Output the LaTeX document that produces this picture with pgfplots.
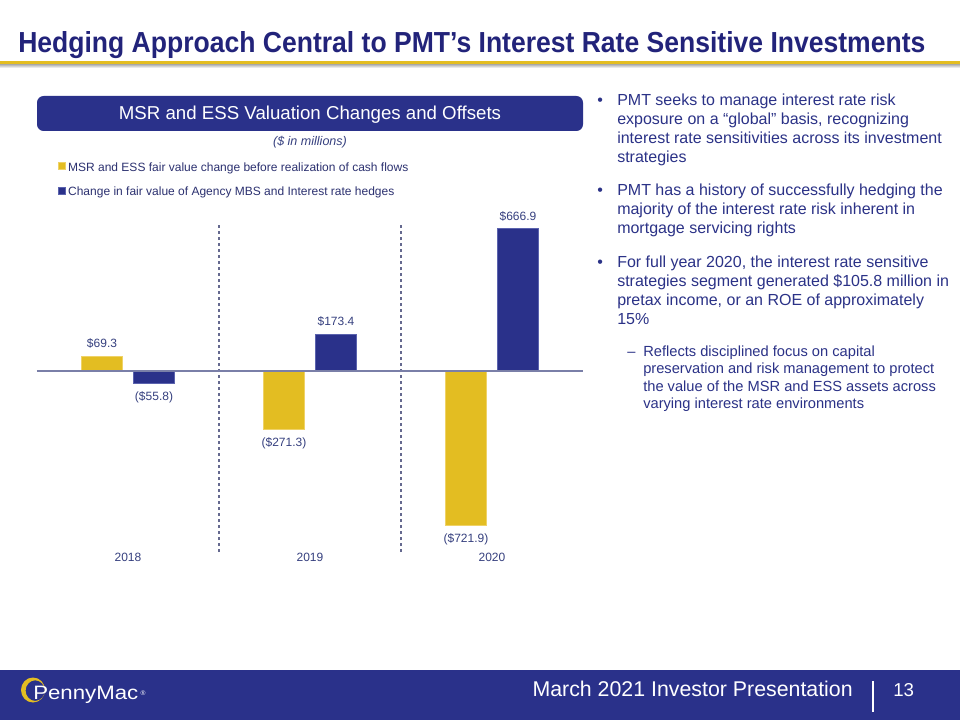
\documentclass[border=0pt]{standalone}
\usepackage{pgfplots}
\pgfplotsset{compat=1.18}
\usepackage{fontspec}
\setmainfont{Liberation Sans}
\usepackage{graphicx}
\definecolor{navy}{HTML}{2A318A}
\definecolor{titlecol}{HTML}{22237A}
\definecolor{gold}{HTML}{E3BD22}
\definecolor{goldedge}{HTML}{EFD267}
\definecolor{navyedge}{HTML}{5B63AE}
\definecolor{txtnavy}{HTML}{2B3287}
\definecolor{lblcol}{HTML}{36407F}
\definecolor{legcol}{HTML}{2C3170}
\definecolor{gridcol}{HTML}{65698F}
\definecolor{zerocol}{HTML}{7A7FA8}
\begin{document}
\begin{tikzpicture}
\begin{scope}[x=0.75pt,y=-0.75pt]
\fill[white] (0,0) rectangle (960,720);
% title
\node[anchor=base west, inner sep=0pt, text=titlecol] at (18,53)
  {\resizebox{680.25pt}{15.75pt}{\bfseries Hedging Approach Central to PMT’s Interest Rate Sensitive Investments}};
\fill[gold] (0,61.5) rectangle (960,64.5);
\shade[top color=black!30, bottom color=white] (0,64.5) rectangle (960,68);
% header box
\fill[navy, rounded corners=5pt] (37,96) rectangle (583,131);
\node[anchor=base, inner sep=0pt, text=white, font=\fontsize{14}{16}\selectfont] at (310,120) {MSR and ESS Valuation Changes and Offsets};
\node[anchor=base, inner sep=0pt, text=lblcol, font=\fontsize{9.4}{11}\selectfont\itshape] at (310,145.5) {(\$ in millions)};
\coordinate (axSW) at (37,552);
% right text
\begin{scope}[every node/.style={anchor=base west, inner sep=0pt, text=txtnavy, font=\fontsize{12}{14}\selectfont}]
\node at (597,105.7) {•};
\node at (617,105.7) {PMT seeks to manage interest rate risk};
\node at (617,124.8) {exposure on a “global” basis, recognizing};
\node at (617,143.9) {interest rate sensitivities across its investment};
\node at (617,163.0) {strategies};
\node at (597,195.7) {•};
\node at (617,195.7) {PMT has a history of successfully hedging the};
\node at (617,214.8) {majority of the interest rate risk inherent in};
\node at (617,233.9) {mortgage servicing rights};
\node at (597,267.4) {•};
\node at (617,267.4) {For full year 2020, the interest rate sensitive};
\node at (617,286.5) {strategies segment generated \$105.8 million in};
\node at (617,305.6) {pretax income, or an ROE of approximately};
\node at (617,324.7) {15\%};
\end{scope}
\begin{scope}[every node/.style={anchor=base west, inner sep=0pt, text=txtnavy, font=\fontsize{11}{13}\selectfont}]
\node at (627,356) {–};
\node at (643,356) {Reflects disciplined focus on capital};
\node at (643,373.5) {preservation and risk management to protect};
\node at (643,391) {the value of the MSR and ESS assets across};
\node at (643,408.5) {varying interest rate environments};
\end{scope}
% footer
\fill[navy] (0,670) rectangle (960,720);
\begin{scope}[shift={(33,690)}, x=0.75pt, y=0.75pt]
\fill[gold, even odd rule] (0,0) ellipse (12 and 12.5) (2.2,-0.6) ellipse (9.6 and 10.3);
\end{scope}
\node[anchor=base west, inner sep=0pt, text=white] at (33,699.3)
  {\resizebox{78.75pt}{10pt}{PennyMac}};
\node[anchor=center, inner sep=0pt, text=white, font=\fontsize{5}{6}\selectfont] at (143,693) {®};
\node[anchor=base east, inner sep=0pt, text=white, font=\fontsize{16}{18}\selectfont] at (853,696) {March 2021 Investor Presentation};
\draw[white, line width=1.2pt] (873,681) -- (873,712);
\node[anchor=base west, inner sep=0pt, text=white, font=\fontsize{14}{16}\selectfont] at (893,696) {13};
\end{scope}
\begin{axis}[
  at={(axSW)}, anchor=south west,
  scale only axis, width=409.5pt, height=246pt,
  xmin=-0.5, xmax=2.5, ymin=-849, ymax=689.5,
  ybar, bar width=30.75pt,
  axis line style={draw=none},
  axis on top,
  ytick=\empty,
  xtick={0,1,2}, xticklabels={2018,2019,2020},
  major tick length=0pt,
  /pgf/number format/assume math mode=true,
  xticklabel style={font=\fontsize{9}{10}\selectfont, text=lblcol, inner sep=1pt},
  extra x ticks={0.5,1.5}, extra x tick labels={},
  extra x tick style={grid=major, major grid style={gridcol, line width=0.8pt, dash pattern=on 2.5pt off 2pt}},
  extra y ticks={0}, extra y tick labels={},
  extra y tick style={grid=major, major grid style={zerocol, line width=1.2pt}},
  nodes near coords, point meta=explicit symbolic,
  every node near coord/.append style={font=\fontsize{9}{10}\selectfont, text=lblcol, inner sep=5.4pt},
  legend cell align=left,
  legend style={at={(axis description cs:0.0385,1.1887)}, anchor=north west, draw=none, fill=none,
    inner sep=0pt, row sep=9.3pt, font=\fontsize{9}{10}\selectfont, text=legcol,
    nodes={inner sep=0pt, text height=6.5pt, text depth=2pt}},
  legend image code/.code={\fill[#1] (0pt,-0.9pt) rectangle (5.25pt,4.35pt); \path (6.9pt,0pt);},
  clip=false,
]
% MSR and ESS (gold) bars, shifted left
\addplot[fill=gold, draw=goldedge, line width=0.5pt, bar shift=-19.5pt]
  coordinates {(0,69.3) [\$69.3]};
\addlegendentry{MSR and ESS fair value change before realization of cash flows}
% Agency MBS and hedges (navy) bars, shifted right
\addplot[fill=navy, draw=navyedge, line width=0.5pt, bar shift=19.5pt]
  coordinates {(1,173.4) [\$173.4] (2,666.9) [\$666.9]};
\addlegendentry{Change in fair value of Agency MBS and Interest rate hedges}
\addplot[fill=gold, draw=goldedge, line width=0.5pt, bar shift=-19.5pt, forget plot,
  nodes near coords align={anchor=north}, every node near coord/.append style={anchor=north, inner sep=6.2pt}]
  coordinates {(1,-271.3) [(\$271.3)] (2,-721.9) [(\$721.9)]};
\addplot[fill=navy, draw=navyedge, line width=0.5pt, bar shift=19.5pt, forget plot,
  nodes near coords align={anchor=north}, every node near coord/.append style={anchor=north, inner sep=6.2pt}]
  coordinates {(0,-55.8) [(\$55.8)]};
\end{axis}
\begin{scope}[x=0.75pt,y=-0.75pt]
\pgfresetboundingbox
\useasboundingbox (0,0) rectangle (960,720);
\end{scope}
\end{tikzpicture}
\end{document}
